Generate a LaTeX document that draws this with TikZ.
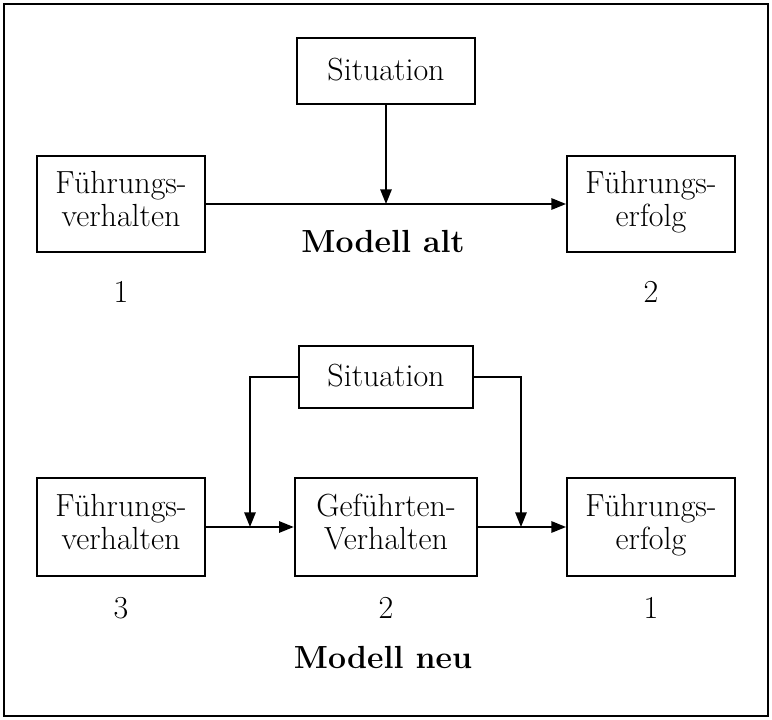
\documentclass[tikz,border=0pt]{standalone}
\usetikzlibrary{arrows.meta}
\begin{document}
\begin{tikzpicture}[x=0.75pt,y=-0.75pt,
  txt/.style={font=\fontsize{24}{25}\selectfont},
  btxt/.style={font=\fontsize{24}{25}\selectfont\bfseries},
  box/.style={draw,line width=1.4pt,align=center,inner sep=0pt,txt},
  conn/.style={line width=1.4pt,-{Triangle[length=11pt,width=8.5pt]}}]
\useasboundingbox (0,0) rectangle (772,720);
\draw[line width=2pt] (4,4) rectangle (768,716);
% top model
\node[box,minimum width=133.5pt,minimum height=50pt] (s1) at (386,71) {\raisebox{-2pt}{Situation}\strut};
\node[box,minimum width=126pt,minimum height=72pt] (fv1) at (121,204) {Führungs-\\verhalten\strut};
\node[box,minimum width=126pt,minimum height=72pt] (fe1) at (651,204) {Führungs-\\erfolg\strut};
\coordinate (j1) at (s1.south |- fv1.east);
\draw[conn] (fv1.east) -- (fe1.west);
\draw[conn] (s1.south) -- (j1);
\node[btxt] (m1) at (383,246) {Modell alt\strut};
\node[txt] (n1) at (121,296) {1\strut};
\node[txt] (n2) at (651,296) {2\strut};
% bottom model
\node[box,minimum width=130pt,minimum height=47pt] (s2) at (386,377) {\raisebox{-2pt}{Situation}\strut};
\node[box,minimum width=126pt,minimum height=73pt] (fv2) at (121,527) {Führungs-\\verhalten\strut};
\node[box,minimum width=137pt,minimum height=73pt] (gv) at (386,527) {Geführten-\\Verhalten\strut};
\node[box,minimum width=126pt,minimum height=73pt] (fe2) at (651,527) {Führungs-\\erfolg\strut};
\coordinate (jl) at (250,527);
\coordinate (jr) at (521,527);
\draw[conn] (fv2.east) -- (gv.west);
\draw[conn] (gv.east) -- (fe2.west);
\draw[conn] (s2.west) -| (jl);
\draw[conn] (s2.east) -| (jr);
\node[txt] (n3) at (121,612) {3\strut};
\node[txt] (n4) at (386,612) {2\strut};
\node[txt] (n5) at (651,612) {1\strut};
\node[btxt] (m2) at (383,662) {Modell neu\strut};
\end{tikzpicture}
\end{document}
